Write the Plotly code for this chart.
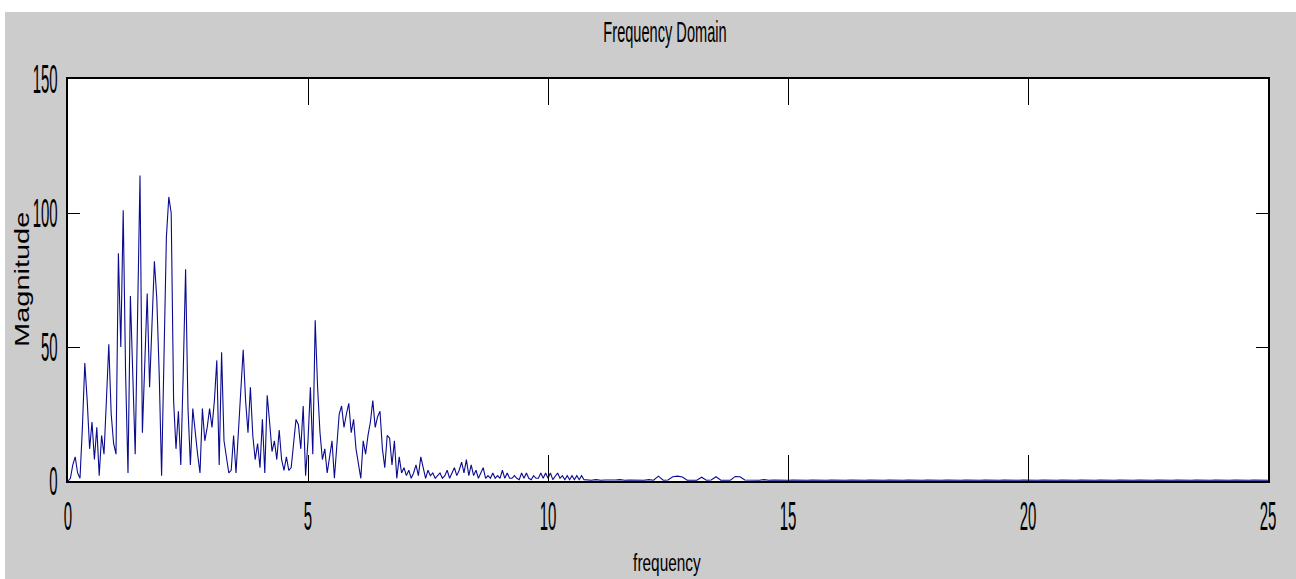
import numpy as np
import plotly.graph_objects as go

# ---- data ----
step_head = 0.05
magnitude_head = [
    0, 1, 6, 9, 3, 1, 20, 44, 30, 12, 22, 8, 20, 2, 17, 10, 30, 51, 25, 14,
    10, 85, 50, 101, 40, 3, 69, 40, 10, 62, 114, 18, 45, 70, 35, 60, 82, 68, 40, 2,
    45, 91, 106, 100, 30, 12, 26, 6, 40, 79, 27, 6, 27, 18, 10, 3, 27, 15, 20, 27,
    20, 30, 45, 6, 48, 15, 8, 3, 4, 17, 3, 20, 35, 49, 30, 18, 35, 17, 8, 14,
    5, 23, 3, 32, 22, 11, 15, 8, 19, 8, 4, 9, 4, 5, 14, 23, 21, 12, 28, 2,
    15, 35, 10, 60, 35, 18, 8, 12, 3, 10, 15, 1, 12, 25, 28, 20, 25, 29, 18, 23,
    12, 6, 1, 15, 10, 17, 22, 30, 20, 24, 26, 12, 5, 17, 16, 6, 15, 1, 9, 3,
    5, 2, 4, 1, 3, 6, 2, 9, 5, 1, 4, 2, 3, 1, 2, 3, 1, 2, 4, 1,
    3, 5, 2, 4, 7, 3, 8, 2, 6, 2, 4, 1, 3, 5, 1, 2, 1, 3, 1, 2,
    1, 4, 1, 3, 1, 1, 2, 1, 0.5, 3, 1, 3, 1, 0.5, 2, 1, 1, 3, 1, 3,
    1, 3, 0.5, 2, 3, 1, 2, 0.5, 2, 0.5, 2, 0.5, 2, 0.5, 2, 0.5,
]
tail_start = 10.8
step_tail = 0.1
magnitude_tail = [
    0.4, 0.3, 0.5, 0.3, 0.4, 0.3, 0.4, 0.5, 0.3, 0.4,
    0.3, 0.4, 0.3, 0.5, 0.3, 1.8, 0.3, 0.4, 1.6, 1.8,
    1.5, 0.3, 0.4, 0.3, 1.4, 0.3, 0.4, 1.6, 0.3, 0.4,
    0.3, 1.7, 1.6, 0.4, 0.3, 0.4, 0.3, 0.5, 0.3, 0.4,
    0.3, 0.4, 0.3, 0.4, 0.3, 0.4, 0.3, 0.4, 0.3, 0.4,
    0.3, 0.4, 0.3, 0.4, 0.3, 0.4, 0.3, 0.4, 0.3, 0.4,
    0.3, 0.4, 0.3, 0.4, 0.3, 0.4, 0.3, 0.4, 0.3, 0.4,
    0.3, 0.4, 0.3, 0.4, 0.3, 0.4, 0.3, 0.4, 0.3, 0.4,
    0.3, 0.4, 0.3, 0.4, 0.3, 0.4, 0.3, 0.4, 0.3, 0.4,
    0.3, 0.4, 0.3, 0.4, 0.3, 0.4, 0.3, 0.4, 0.3, 0.4,
    0.3, 0.4, 0.3, 0.4, 0.3, 0.4, 0.3, 0.4, 0.3, 0.4,
    0.3, 0.4, 0.3, 0.4, 0.3, 0.4, 0.3, 0.4, 0.3, 0.4,
    0.3, 0.4, 0.3, 0.4, 0.3, 0.4, 0.3, 0.4, 0.3, 0.4,
    0.3, 0.4, 0.3, 0.4, 0.3, 0.4, 0.3, 0.4, 0.3, 0.4,
    0.3, 0.4, 0.3,
]
x_ticks = [0, 5, 10, 15, 20, 25]
y_ticks = [0, 50, 100, 150]

freq = np.concatenate([
    step_head * np.arange(len(magnitude_head)),
    tail_start + step_tail * np.arange(len(magnitude_tail)),
])
mag = np.array(magnitude_head + magnitude_tail, dtype=float)

FONT = "Liberation Sans, Arial, Helvetica, sans-serif"

fig = go.Figure()
fig.add_trace(go.Scatter(
    x=freq, y=mag, mode="lines",
    line=dict(color="#0b0b8f", width=1.1),
    showlegend=False, hoverinfo="skip",
))

W, H = 1296, 579
L, R, T, B = 68, 1268, 79, 481
pw, ph = R - L, B - T

def px_x(p):
    return (p - L) / pw

def px_y(p):
    return (B - p) / ph

fig.update_layout(
    width=W, height=H,
    margin=dict(l=L, r=W - R, t=T, b=H - B, pad=0, autoexpand=False),
    paper_bgcolor="#cccccc",
    plot_bgcolor="white",
    title=dict(text="Frequency Domain", x=px_x(665), xref="paper", xanchor="center",
               y=1 - 32 / H, yref="container", yanchor="middle",
               font=dict(family=FONT, size=20, color="black")),
    shapes=[
        dict(type="rect", xref="paper", yref="paper", layer="below",
             x0=px_x(-5), x1=px_x(W + 5), y0=px_y(12), y1=px_y(-5),
             fillcolor="white", line=dict(width=0)),
        dict(type="rect", xref="paper", yref="paper", layer="below",
             x0=px_x(-5), x1=px_x(5), y0=px_y(H + 5), y1=px_y(-5),
             fillcolor="white", line=dict(width=0)),
    ],
    annotations=[
        dict(text="frequency", xref="paper", yref="paper",
             x=px_x(667), y=px_y(562), xanchor="center", yanchor="middle",
             showarrow=False, font=dict(family=FONT, size=20, color="black")),
        dict(text="Magnitude", xref="paper", yref="paper", textangle=-90,
             x=px_x(22), y=px_y(280), xanchor="center", yanchor="middle",
             showarrow=False, font=dict(family=FONT, size=20, color="black")),
    ],
    font=dict(family=FONT, color="black"),
)
fig.update_xaxes(
    range=[0, 25], tickvals=x_ticks, ticktext=[str(v) for v in x_ticks],
    ticks="inside", ticklen=26, tickwidth=1, tickcolor="black",
    showline=True, linecolor="black", linewidth=2, mirror="ticks",
    showgrid=False, zeroline=False, automargin=False,
    tickfont=dict(family=FONT, size=22, color="black"),
    ticklabelstandoff=14,
)
fig.update_yaxes(
    range=[0, 150], tickvals=y_ticks, ticktext=[str(v) for v in y_ticks],
    ticks="inside", ticklen=12, tickwidth=1, tickcolor="black",
    showline=True, linecolor="black", linewidth=2, mirror="ticks",
    showgrid=False, zeroline=False, automargin=False,
    tickfont=dict(family=FONT, size=22, color="black"),
    ticklabelstandoff=4,
)

# The reference image is stretched vertically: stretch the texts the same way
post_js = """
function stretchEl(el, sx, sy) {
  var bb = el.getBBox();
  var cx = parseFloat(el.getAttribute('x'));
  if (isNaN(cx)) { cx = bb.x + bb.width / 2; }
  var cy = bb.y + bb.height / 2;
  var t = el.getAttribute('transform') || '';
  el.setAttribute('transform', t + ' translate(' + cx + ',' + cy + ') scale(' + sx + ',' + sy +
    ') translate(' + (-cx) + ',' + (-cy) + ')');
}
document.querySelectorAll('.xtick text').forEach(function (el) { stretchEl(el, 0.68, 1.85); });
document.querySelectorAll('.ytick text').forEach(function (el) { stretchEl(el, 0.68, 1.85); });
document.querySelectorAll('.gtitle').forEach(function (el) { stretchEl(el, 0.73, 1.45); });
var ann = document.querySelectorAll('.annotation-text');
if (ann.length > 0) { stretchEl(ann[0], 0.77, 1.22); }
if (ann.length > 1) { stretchEl(ann[1], 1.45, 1.0); }
"""

fig.write_html("out.html", post_script=post_js)
